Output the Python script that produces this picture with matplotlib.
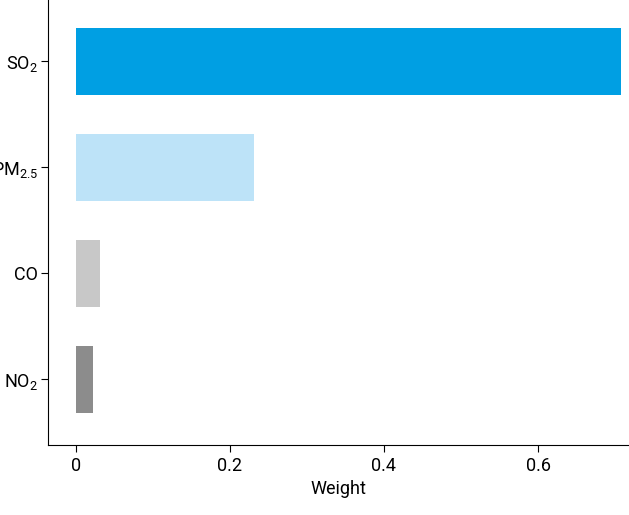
import matplotlib.pyplot as plt

pollutants = ['NO$_2$', 'CO', 'PM$_{2.5}$', 'SO$_2$']
weights = [0.022, 0.031, 0.231, 0.708]
colors = ['#8c8c8c', '#c8c8c8', '#bde3f8', '#009fe3']

plt.rcParams['font.family'] = ['Roboto', 'DejaVu Sans']
plt.rcParams['font.stretch'] = 'condensed'
plt.rcParams['mathtext.default'] = 'regular'

fig = plt.figure(figsize=(6.29, 5.15), dpi=100)
ax = fig.add_axes([48 / 629, 70 / 515, 581 / 629, 445 / 515])

ax.barh(range(len(pollutants)), weights, height=0.63, color=colors)
ax.set_yticks(range(len(pollutants)))
ax.set_yticklabels(pollutants)
ax.set_xticks([0, 0.2, 0.4, 0.6])
ax.set_xticklabels(['0', '0.2', '0.4', '0.6'])
ax.set_xlim(-0.036, 0.718)
ax.set_ylim(-0.62, 3.58)
ax.set_xlabel('Weight', fontsize=13)
ax.tick_params(labelsize=13, length=5)
ax.tick_params(axis='y', pad=2)
for s in ['top', 'right']:
    ax.spines[s].set_visible(False)

fig.savefig('out.png', dpi=100)
